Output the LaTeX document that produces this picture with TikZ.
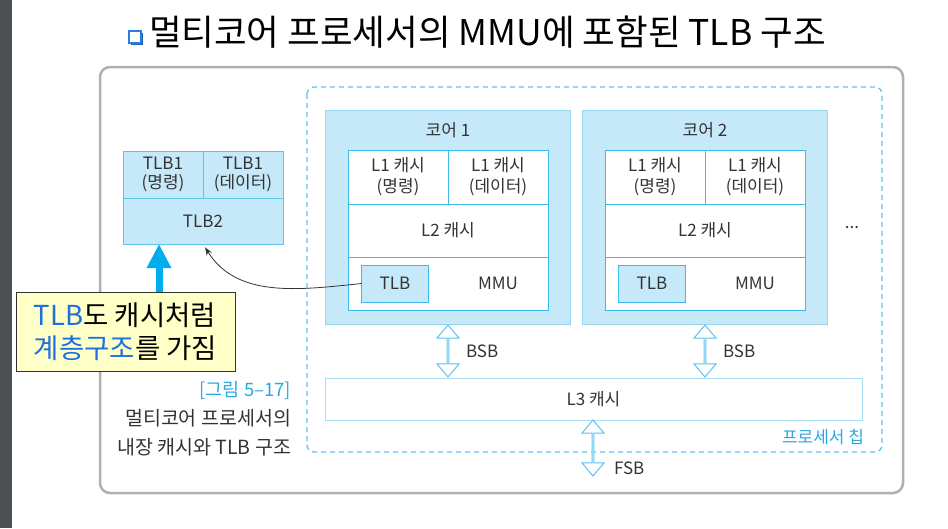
\documentclass[tikz,border=0pt]{standalone}
\usepackage{fontspec}
\setmainfont{Noto Sans CJK KR}
\usepackage{xcolor}
\usepackage{tikz}
\usetikzlibrary{shapes,arrows,arrows.meta,positioning,shadows,calc}

\definecolor{corefill}{HTML}{C6E9FA}
\definecolor{coreline}{HTML}{9AD6F1}
\definecolor{cellline}{HTML}{3DB9EA}
\definecolor{chipline}{HTML}{5BC5EE}
\definecolor{lthreeline}{HTML}{A9DDF4}
\definecolor{framegray}{HTML}{B0B0B0}
\definecolor{stripgray}{HTML}{4B5055}
\definecolor{notefill}{HTML}{FFFFC8}
\definecolor{noteblue}{HTML}{1F6FE0}
\definecolor{capblue}{HTML}{2AA8E0}
\definecolor{arrowblue}{HTML}{00AEEF}
\definecolor{bulletblue}{HTML}{2B7BE4}
\definecolor{txtgray}{HTML}{333333}

\begin{document}
\begin{tikzpicture}[%
      x=1pt, y=-1pt,
      every node/.style={text=txtgray, font=\fontsize{17}{21}\selectfont, inner sep=0pt, outer sep=0pt},
      corebox/.style={fill=corefill, draw=coreline, line width=1pt, minimum width=245pt, minimum height=214pt},
      cell/.style={fill=white, draw=cellline, line width=1pt, align=center, minimum width=100pt, minimum height=54pt},
      wide/.style={cell, minimum width=200pt, minimum height=53pt},
      tlbcell/.style={fill=corefill, draw=cellline, line width=1pt, minimum width=67pt, minimum height=37pt},
      stackcell/.style={fill=corefill, draw=chipline, line width=1pt, align=center, minimum width=80pt, minimum height=47pt, font=\fontsize{17}{19.5}\selectfont},
      busarrow/.style={double arrow, draw=chipline, fill=white, line width=1pt, rotate=90, minimum width=22pt, double arrow head extend=6pt, double arrow tip angle=80}]
      \fill[stripgray] (0,0) rectangle (12,528);
      \useasboundingbox (0,0) rectangle (948,528);
      \node[draw=bulletblue, fill=white, line width=1.3pt, minimum size=12pt,
        drop shadow={fill=bulletblue!80!black, opacity=1, shadow xshift=1.5pt, shadow yshift=-1.5pt}] (bullet) at (135,37) {};
      \node[anchor=west, text=black, font=\fontsize{35.5}{40}\selectfont] (title) at (149,32) {멀티코어 프로세서의 MMU에 포함된 TLB 구조};
      \draw[framegray, line width=2.5pt, rounded corners=10pt] (100,67) rectangle (903,493);
      \draw[chipline, line width=1.3pt, dash pattern=on 5pt off 4pt, rounded corners=7pt] (307,87) rectangle (882,452);
      \foreach \n/\cx in {1/448,2/705}{
        \node[corebox] (core\n) at (\cx,217) {};
        \node (name\n) at (\cx,130) {코어 \n};
        \node[cell, anchor=north east] (l1i\n) at (\cx,150) {L1 캐시\\(명령)};
        \node[cell, right=0pt of l1i\n] (l1d\n) {L1 캐시\\(데이터)};
        \node[wide, below=0pt of l1i\n.south east] (l2\n) {L2 캐시};
        \node[wide, below=0pt of l2\n] (mmu\n) {};
        \node[tlbcell] (tlb\n) at (\cx-53,283.5) {TLB};
        \node (mmutext\n) at (\cx+50,283) {MMU};
        \node[busarrow, minimum height=52pt] (bsb\n) at (\cx,351) {};
        \node[anchor=west] (bsbtext\n) at ([xshift=18pt]bsb\n.center) {BSB};
      }
      \node (more) at (852,228) {...};
      \node[draw=lthreeline, fill=white, line width=1pt, minimum width=537pt, minimum height=42pt] (l3) at (593.5,399) {L3 캐시};
      \node[busarrow, minimum height=56pt] (fsb) at (593,448) {};
      \node[anchor=west] (fsbtext) at (614,468) {FSB};
      \node[anchor=east, text=capblue] (chipname) at (864,437) {프로세서 칩};
      \node[stackcell, anchor=north west] (tlb1i) at (123,151) {TLB1\\(명령)};
      \node[stackcell, right=0pt of tlb1i] (tlb1d) {TLB1\\(데이터)};
      \node[stackcell, minimum width=160pt, minimum height=46pt, anchor=north west] (tlb2) at (tlb1i.south west) {TLB2};
      \draw[-{Stealth[length=8pt,width=6pt]}, draw=txtgray, line width=0.8pt, shorten >=4pt] (tlb1.west) to[out=186, in=-58] (tlb2.south);
      \node[draw=txtgray, fill=notefill, line width=1pt, minimum width=219pt, minimum height=79pt, align=left, text=black,
        font=\fontsize{27.5}{33}\selectfont] (note) at (125.5,331.5) {\textcolor{noteblue}{TLB}도 캐시처럼\\\textcolor{noteblue}{계층구조}를 가짐};
      \coordinate (hint) at ($(tlb2.south west)!0.225!(tlb2.south east)$);
      \draw[arrowblue, line width=7pt, -{Triangle[length=24pt,width=23pt]}] (hint |- note.north) -- (hint);
      \node[anchor=east, text=capblue, font=\fontsize{18.5}{22}\selectfont] (capnum) at (291,390) {[그림 5–17]};
      \node[anchor=east, font=\fontsize{19.5}{22}\selectfont] (capone) at (291,418) {멀티코어 프로세서의};
      \node[anchor=east, font=\fontsize{19.5}{22}\selectfont] (captwo) at (291,447) {내장 캐시와 TLB 구조};
    \end{tikzpicture}
\end{document}
